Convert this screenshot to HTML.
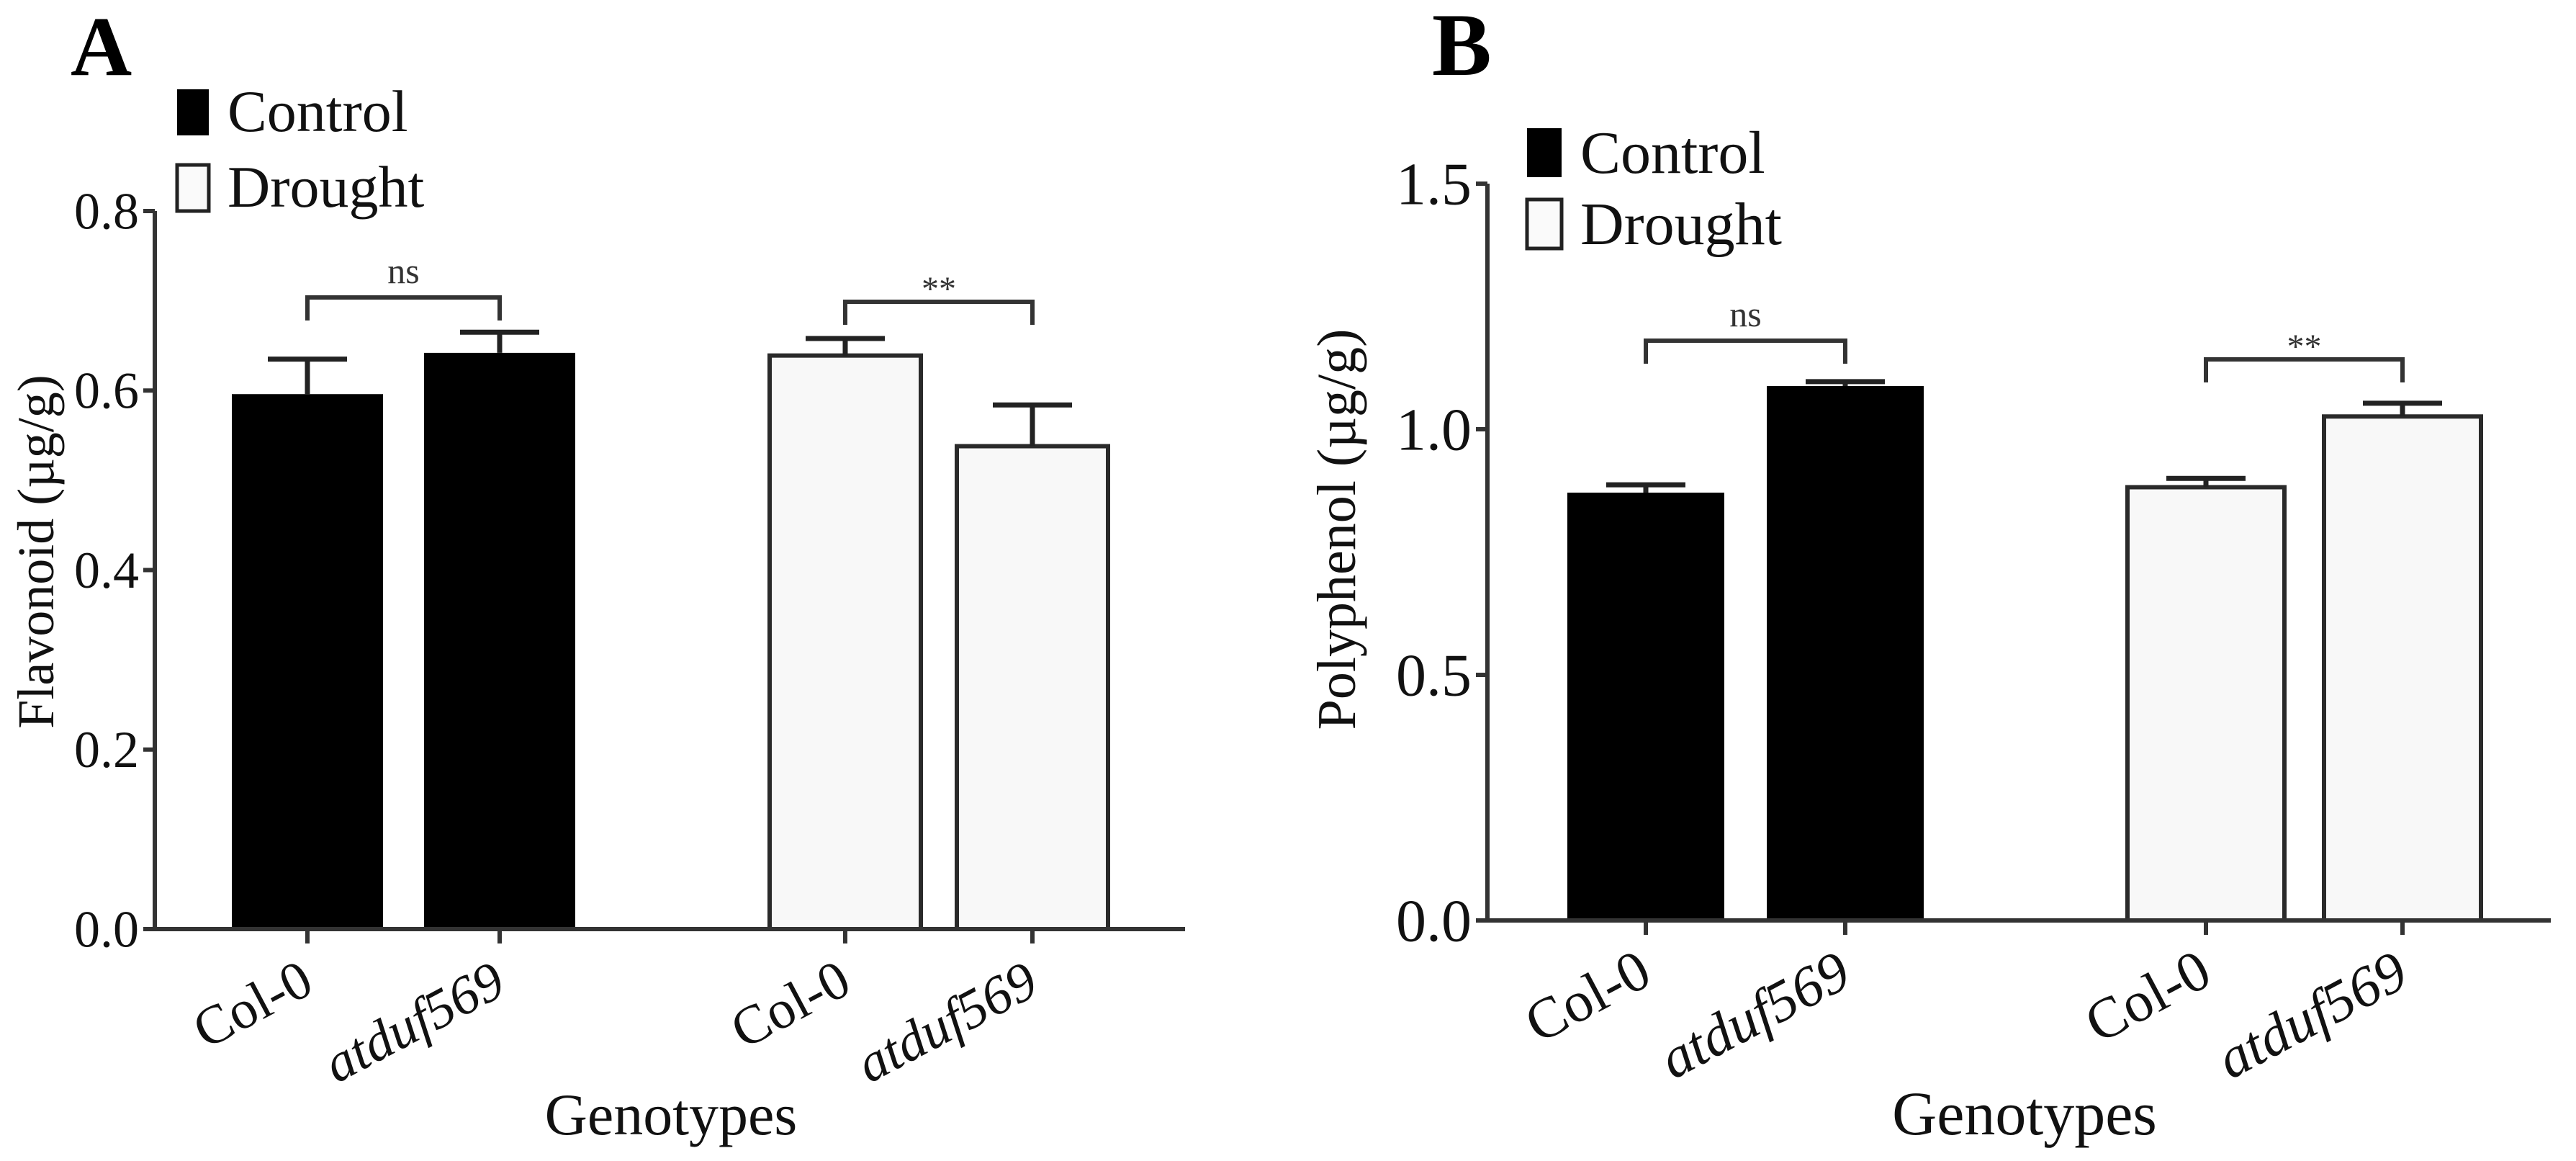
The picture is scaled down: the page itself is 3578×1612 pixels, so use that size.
<!DOCTYPE html>
<html><head><meta charset="utf-8">
<style>
html,body{margin:0;padding:0;background:#fff;}
svg{display:block;font-family:"Liberation Serif","Times New Roman",serif;}
</style></head>
<body>
<svg id="chart" width="3578" height="1612" viewBox="0 0 3578 1612" xmlns="http://www.w3.org/2000/svg">
<rect x="0" y="0" width="3578" height="1612" fill="#fff"/>
</svg>
<script>
// ---- data ----
const categories = ["Col-0", "atduf569", "Col-0", "atduf569"];
const groups = ["Control", "Control", "Drought", "Drought"];
const flavonoidValues = [0.596, 0.642, 0.639, 0.538];
const flavonoidErrors = [0.039, 0.023, 0.019, 0.046];
const flavonoidTicks = ["0.0", "0.2", "0.4", "0.6", "0.8"];
const polyphenolValues = [0.871, 1.088, 0.882, 1.026];
const polyphenolErrors = [0.016, 0.009, 0.018, 0.027];
const polyphenolTicks = ["0.0", "0.5", "1.0", "1.5"];
const significanceLabels = ["ns", "**"];
const legendLabels = ["Control", "Drought"];

const NS = "http://www.w3.org/2000/svg";
const svg = document.getElementById("chart");
function mk(tag, attrs, parent, text) {
  const e = document.createElementNS(NS, tag);
  for (const k in attrs) e.setAttribute(k, attrs[k]);
  if (text !== undefined) e.textContent = text;
  (parent || svg).appendChild(e);
  return e;
}

function panel(cfg) {
  const g = mk("g", {});
  
  
  const yMax = parseFloat(cfg.ticks[cfg.ticks.length - 1]);
  const yScale = v => cfg.y0 - (v / yMax) * (cfg.y0 - cfg.yTop);
  const xScale = i => cfg.barLeft[i] + cfg.barW / 2;

  // panel letter
  const L = mk("text", {x: cfg.letterX, y: cfg.letterY, "font-size": cfg.letterSize, "font-weight": "bold", fill: "#000"}, g, cfg.letter);
  
  

  // bars
  cfg.values.forEach((v, i) => {
    const drought = groups[i] === "Drought";
    const top = yScale(v);
    const r = mk("rect", {x: cfg.barLeft[i], y: top, width: cfg.barW, height: cfg.y0 - top,
      fill: drought ? "#f8f8f8" : "#000", stroke: drought ? "#2a2a2a" : "#000", "stroke-width": drought ? 6 : 0}, g);
    
    
    const et = yScale(v + cfg.errors[i]);
    const cx = xScale(i);
    const eb = mk("path", {d: `M${cx},${top} V${et} M${cx - 55},${et} H${cx + 55}`, stroke: "#222", "stroke-width": 7, fill: "none"}, g);
    
    
  });

  // axes
  const ax = mk("path", {d: `M${cfg.axisX},${cfg.yTop} V${cfg.y0} H${cfg.axisRight}`, stroke: "#333", "stroke-width": 6, fill: "none"}, g);
  
  
  cfg.ticks.forEach(t => {
    const y = yScale(parseFloat(t));
    const tk = mk("line", {x1: cfg.axisX - 16, x2: cfg.axisX, y1: y, y2: y, stroke: "#333", "stroke-width": 6}, g);
    
    
    const tl = mk("text", {x: cfg.axisX - 22, y: y + cfg.tickSize * 0.34, "font-size": cfg.tickSize, "text-anchor": "end", fill: "#111"}, g, t);
    
    
  });
  categories.forEach((c, i) => {
    const cx = xScale(i);
    const tk = mk("line", {x1: cx, x2: cx, y1: cfg.y0, y2: cfg.y0 + 20, stroke: "#333", "stroke-width": 6}, g);
    
    
    const italic = c.indexOf("atduf") === 0;
    const ty = cfg.y0 + (italic ? 88 : 86);
    const tl = mk("text", {x: 0, y: 0, "font-size": cfg.catSize, "text-anchor": "end", "font-style": italic ? "italic" : "normal", fill: "#111",
      transform: `translate(${cx + 12},${ty}) rotate(-28)`}, g, c);
    
    
  });

  // significance brackets
  [[0, 1], [2, 3]].forEach((pair, k) => {
    const x1 = xScale(pair[0]), x2 = xScale(pair[1]);
    const yb = cfg.bracketY[k];
    const br = mk("path", {d: `M${x1},${yb + 32} V${yb} H${x2} V${yb + 32}`, stroke: "#333", "stroke-width": 6, fill: "none"}, g);
    
    
    const st = mk("text", {x: (x1 + x2) / 2, y: yb - (k === 0 ? 20 : 2), "font-size": k === 0 ? 50 : 48, "text-anchor": "middle", fill: "#333"}, g, significanceLabels[k]);
    
    
  });

  // legend
  legendLabels.forEach((lab, k) => {
    const ly = cfg.legendY[k];
    const sq = mk("rect", {x: cfg.legendX, y: ly, width: cfg.legendW, height: cfg.legendH,
      fill: k === 0 ? "#000" : "#fafafa", stroke: k === 0 ? "#000" : "#222", "stroke-width": k === 0 ? 0 : 5}, g);
    
    
    const lt = mk("text", {x: cfg.legendX + cfg.legendW + 26, y: ly + cfg.legendH - 6, "font-size": cfg.legendSize, fill: "#111"}, g, lab);
    
    
  });

  // titles
  const yt = mk("text", {x: 0, y: 0, "font-size": cfg.titleSize, "text-anchor": "middle", fill: "#111",
    transform: `translate(${cfg.yTitleX},${cfg.yTitleY}) rotate(-90)`}, g, cfg.yTitle);
  
  
  const xt = mk("text", {x: cfg.xTitleX, y: 1575, "font-size": cfg.xTitleSize, "text-anchor": "middle", fill: "#111"}, g, "Genotypes");
  
  
}

panel({name: "panel-a-flavonoid", letter: "A", letterX: 98, letterY: 104, letterSize: 118,
  values: flavonoidValues, errors: flavonoidErrors, ticks: flavonoidTicks,
  axisX: 215, axisRight: 1646, y0: 1290, yTop: 293, barLeft: [322, 589, 1069, 1329], barW: 210,
  tickSize: 72, catSize: 76, bracketY: [413, 419], legendX: 246, legendY: [124, 229], legendW: 44, legendH: 64,
  legendSize: 82, yTitle: "Flavonoid (µg/g)", yTitleX: 74, yTitleY: 766, titleSize: 72, xTitleX: 932, xTitleSize: 82});

panel({name: "panel-b-polyphenol", letter: "B", letterX: 1989, letterY: 104, letterSize: 124,
  values: polyphenolValues, errors: polyphenolErrors, ticks: polyphenolTicks,
  axisX: 2066, axisRight: 3543, y0: 1278, yTop: 255, barLeft: [2177, 2454, 2955, 3228], barW: 218,
  tickSize: 84, catSize: 80, bracketY: [473, 499], legendX: 2121, legendY: [178, 277], legendW: 48, legendH: 68,
  legendSize: 84, yTitle: "Polyphenol (µg/g)", yTitleX: 1882, yTitleY: 735, titleSize: 76, xTitleX: 2812, xTitleSize: 86});
</script>
</body></html>
